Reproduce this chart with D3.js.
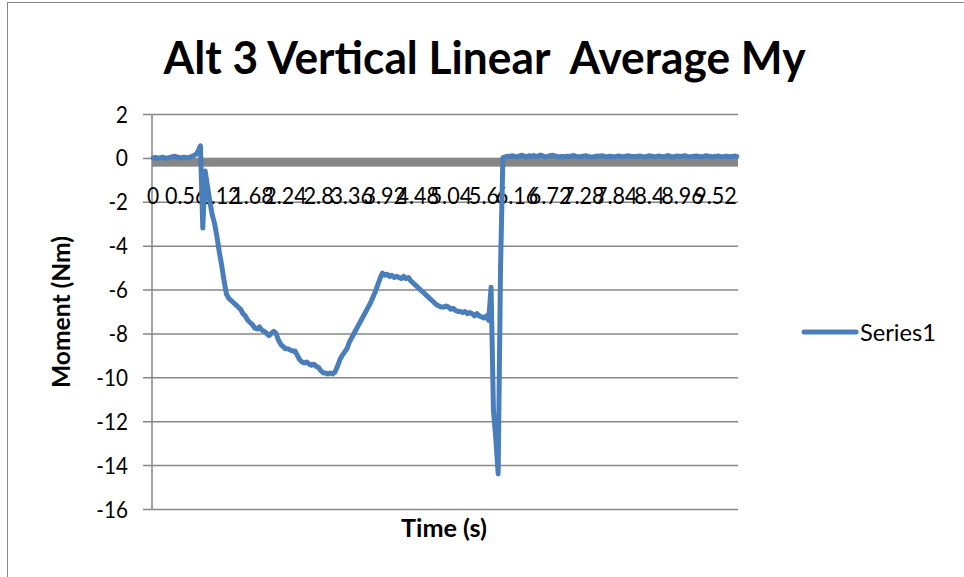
<!DOCTYPE html>
<html>
<head>
<meta charset="utf-8">
<script src="https://cdn.jsdelivr.net/npm/d3@7"></script>
<style>
  html, body { margin: 0; padding: 0; background: #fff; }
  svg { display: block; font-family: Lato, "Open Sans", sans-serif; }
</style>
</head>
<body>
<svg id="chart" width="964" height="577"></svg>
<script>
// ---- data ----
const chartTitle = "Alt 3 Vertical Linear  Average My";
const seriesName = "Series1";
const xTitle = "Time (s)";
const yTitle = "Moment (Nm)";
const timeStep = 0.04; // seconds between samples
const momentValues = [
  0.00, 0.02, -0.02, 0.01, 0.03, 0.00, -0.01, 0.02, 0.05, 0.08,
  0.04, 0.02, 0.00, 0.03, 0.01, 0.02, 0.05, 0.10, 0.15, 0.30,
  0.55, -3.2, -0.6, -1.3, -2.0, -2.6, -3.0, -3.6, -4.3, -4.9,
  -5.6, -6.2, -6.4, -6.5, -6.6, -6.7, -6.8, -6.9, -7.1, -7.2,
  -7.4, -7.5, -7.6, -7.75, -7.8, -7.7, -7.85, -7.9, -8.0, -8.1,
  -8.0, -7.9, -8.0, -8.3, -8.5, -8.6, -8.7, -8.7, -8.75, -8.8,
  -8.8, -9.0, -9.2, -9.3, -9.35, -9.3, -9.4, -9.45, -9.4, -9.5,
  -9.55, -9.7, -9.8, -9.8, -9.85, -9.8, -9.85, -9.75, -9.5, -9.2,
  -9.0, -8.85, -8.7, -8.4, -8.2, -8.0, -7.8, -7.6, -7.4, -7.2,
  -7.0, -6.8, -6.6, -6.35, -6.1, -5.8, -5.5, -5.25, -5.35, -5.3,
  -5.4, -5.35, -5.45, -5.4, -5.45, -5.5, -5.4, -5.5, -5.45, -5.6,
  -5.7, -5.8, -5.9, -6.0, -6.1, -6.2, -6.3, -6.4, -6.5, -6.6,
  -6.7, -6.75, -6.8, -6.8, -6.75, -6.8, -6.9, -6.85, -6.95, -7.0,
  -7.0, -7.05, -7.0, -7.1, -7.05, -7.1, -7.2, -7.1, -7.2, -7.25,
  -7.3, -7.2, -7.4, -5.9, -11.5, -12.8, -14.4, -5.0, 0.0, 0.05,
  0.08, 0.06, 0.10, 0.07, 0.04, 0.09, 0.12, 0.08, 0.05, 0.10,
  0.07, 0.11, 0.06, 0.09, 0.13, 0.08, 0.05, 0.07, 0.10, 0.12,
  0.09, 0.06, 0.04, 0.07, 0.05, 0.08, 0.06, 0.09, 0.11, 0.07,
  0.05, 0.06, 0.08, 0.10, 0.07, 0.05, 0.04, 0.06, 0.09, 0.08,
  0.10, 0.07, 0.05, 0.08, 0.06, 0.04, 0.07, 0.09, 0.06, 0.05,
  0.08, 0.10, 0.07, 0.06, 0.05, 0.08, 0.09, 0.06, 0.04, 0.07,
  0.10, 0.08, 0.05, 0.06, 0.09, 0.07, 0.05, 0.08, 0.11, 0.06,
  0.04, 0.07, 0.09, 0.06, 0.08, 0.10, 0.07, 0.05, 0.06, 0.08,
  0.09, 0.06, 0.05, 0.07, 0.10, 0.08, 0.06, 0.05, 0.07, 0.09,
  0.06, 0.04, 0.07, 0.08, 0.05, 0.06, 0.09, 0.07
];
const xTickLabels = ["0","0.56","1.12","1.68","2.24","2.8","3.36","3.92","4.48",
                     "5.04","5.6","6.16","6.72","7.28","7.84","8.4","8.96","9.52"];
const yTickValues = [2, 0, -2, -4, -6, -8, -10, -12, -14, -16];

const categories = momentValues.map((_, i) => String(+(i * timeStep).toFixed(2)));
const data = momentValues.map((v, i) => ({ t: categories[i], v }));

// ---- layout ----
const W = 964, H = 577;
const plot = { left: 152, right: 738, top: 114, bottom: 509 };
const gridColor = "#868686";
const lineColor = "#4A7EBB";

// approximate Calibri advance widths (em) to size text like the original
const cw = { "0":.507,"1":.507,"2":.507,"3":.507,"4":.507,"5":.507,"6":.507,"7":.507,"8":.507,"9":.507,".":.252,"-":.306 };
const calibriW = (s, size) => s.split("").reduce((a, c) => a + (cw[c] || .5), 0) * size;

const svg = d3.select("#chart");
svg.append("rect").attr("x", 0).attr("y", 0).attr("width", W).attr("height", H).attr("fill", "#fff");
svg.append("rect").attr("x", 7.5).attr("y", 2.5).attr("width", W + 20).attr("height", H + 20)
  .attr("fill", "none").attr("stroke", gridColor).attr("stroke-width", 1);

const x = d3.scaleBand().domain(categories).range([plot.left, plot.right]).padding(0);
const y = d3.scaleLinear().domain([-16, 2]).range([plot.bottom, plot.top]);
const xc = d => x(d) + x.bandwidth() / 2;

// gridlines + y axis
const yAxis = d3.axisLeft(y).tickValues(yTickValues).tickSize(-(plot.right - plot.left)).tickFormat("");
const gy = svg.append("g").attr("transform", `translate(${plot.left},0)`).call(yAxis);
gy.select(".domain").remove();
gy.selectAll(".tick line").attr("stroke", gridColor).attr("stroke-width", 1.5).attr("x1", -9);
svg.append("line").attr("x1", plot.left).attr("x2", plot.left).attr("y1", plot.top).attr("y2", plot.bottom)
  .attr("stroke", gridColor).attr("stroke-width", 1.5);

// y tick labels
svg.append("g").selectAll("text").data(yTickValues).join("text")
  .attr("x", 128).attr("y", d => y(d) + 8.5)
  .attr("text-anchor", "end").attr("font-size", 24).attr("fill", "#000")
  .attr("textLength", d => calibriW(String(d), 24)).attr("lengthAdjust", "spacingAndGlyphs")
  .text(d => String(d));

// horizontal axis (thick band at zero)
svg.append("rect").attr("x", plot.left).attr("width", plot.right - plot.left)
  .attr("y", y(0)).attr("height", y(-0.4) - y(0)).attr("fill", gridColor);

// x tick labels
const labelCats = xTickLabels.filter(l => categories.includes(l));
svg.append("g").selectAll("text").data(labelCats).join("text")
  .attr("x", d => xc(d)).attr("y", 204)
  .attr("text-anchor", "middle").attr("font-size", 24).attr("fill", "#000")
  .attr("textLength", d => calibriW(d, 24)).attr("lengthAdjust", "spacingAndGlyphs")
  .text(d => d);

// series line
const line = d3.line().x(d => xc(d.t)).y(d => y(d.v));
svg.append("path").datum(data).attr("d", line)
  .attr("fill", "none").attr("stroke", lineColor).attr("stroke-width", 5)
  .attr("stroke-linejoin", "round").attr("stroke-linecap", "round");

// title
svg.append("text").attr("x", 484.5).attr("y", 74).attr("text-anchor", "middle")
  .attr("font-size", 45).attr("font-weight", "bold").attr("fill", "#000")
  .attr("textLength", 642).attr("lengthAdjust", "spacingAndGlyphs")
  .attr("xml:space", "preserve").style("white-space", "pre")
  .text(chartTitle);

// axis titles
svg.append("text").attr("transform", "translate(70,312) rotate(-90)").attr("text-anchor", "middle")
  .attr("font-size", 24).attr("font-weight", "bold").attr("fill", "#000")
  .attr("textLength", 152).attr("lengthAdjust", "spacingAndGlyphs")
  .text(yTitle);
svg.append("text").attr("x", 444).attr("y", 537).attr("text-anchor", "middle")
  .attr("font-size", 24).attr("font-weight", "bold").attr("fill", "#000")
  .attr("textLength", 86).attr("lengthAdjust", "spacingAndGlyphs")
  .text(xTitle);

// legend
svg.append("line").attr("x1", 804).attr("x2", 856).attr("y1", 332).attr("y2", 332)
  .attr("stroke", lineColor).attr("stroke-width", 5).attr("stroke-linecap", "round");
svg.append("text").attr("x", 860).attr("y", 341).attr("font-size", 24).attr("fill", "#000")
  .attr("textLength", 76).attr("lengthAdjust", "spacingAndGlyphs")
  .text(seriesName);
</script>
</body>
</html>
